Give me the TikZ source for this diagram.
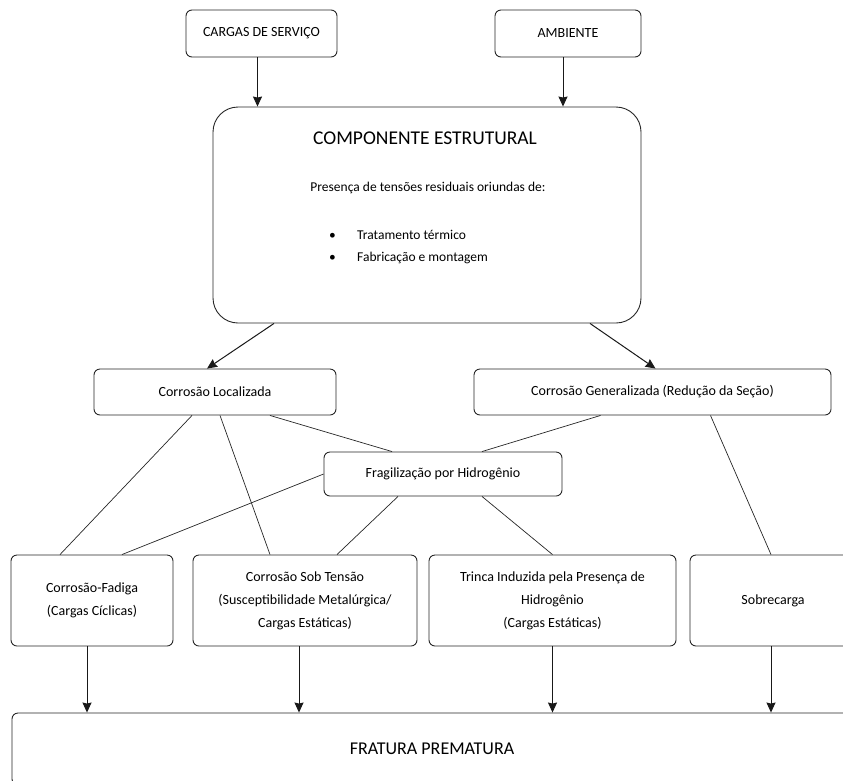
\documentclass[tikz,border=0pt]{standalone}
\usepackage{fontspec}
\setmainfont{Carlito}
\usetikzlibrary{arrows.meta}

\begin{document}
\begin{tikzpicture}[x=1pt,y=-1pt,
		caixa/.style={draw=black!85,line width=0.9pt,rounded corners=6pt,align=center,inner sep=0pt,font=\fontsize{14}{23}\selectfont},
		texto/.style={inner sep=0pt,font=\fontsize{14}{23}\selectfont},
		seta/.style={-{Stealth[length=10pt,width=9pt,inset=1pt]},color=black!90,line width=1pt},
		liga/.style={color=black!85,line width=0.7pt}]
	\useasboundingbox (0,0) rectangle (843,780);
	\clip (0,0) rectangle (843,780);
	% topo
	\node[caixa,minimum width=151pt,minimum height=47pt] (cargas) at (261.5,33.5) {CARGAS DE SERVIÇO};
	\node[caixa,minimum width=146pt,minimum height=47pt] (ambiente) at (568,33.5) {AMBIENTE};
	\node[caixa,rounded corners=25pt,minimum width=428pt,minimum height=216pt] (componente) at (427,215) {};
	\node[texto,font=\fontsize{19.5}{23}\selectfont] (titulo) at (425,138) {COMPONENTE ESTRUTURAL};
	\node[texto,font=\fontsize{13.5}{23}\selectfont] (presenca) at (428,188) {Presença de tensões residuais oriundas de:};
	\node[texto,anchor=west,font=\fontsize{13.5}{23}\selectfont] (tratamento) at (329,235) {\makebox[28pt][l]{\textbullet}Tratamento térmico};
	\node[texto,anchor=west,font=\fontsize{13.5}{23}\selectfont] (fabricacao) at (329,258) {\makebox[28pt][l]{\textbullet}Fabricação e montagem};
	% corrosao
	\node[caixa,minimum width=242pt,minimum height=46pt] (localizada) at (215,392) {Corrosão Localizada};
	\node[caixa,minimum width=357pt,minimum height=46pt] (generalizada) at (652.5,392) {Corrosão Generalizada (Redução da Seção)};
	\node[caixa,minimum width=238pt,minimum height=44pt] (fragilizacao) at (443,474) {Fragilização por Hidrogênio};
	% mecanismos
	\node[caixa,minimum width=162pt,minimum height=91pt] (fadiga) at (92,600.5) {Corrosão-Fadiga\\(Cargas Cíclicas)};
	\node[caixa,minimum width=224pt,minimum height=91pt] (sobtensao) at (305,600.5) {Corrosão Sob Tensão\\(Susceptibilidade Metalúrgica/\\Cargas Estáticas)};
	\node[caixa,minimum width=247pt,minimum height=91pt] (trinca) at (552.5,600.5) {Trinca Induzida pela Presença de\\Hidrogênio\\(Cargas Estáticas)};
	\node[caixa,minimum width=166pt,minimum height=91pt] (sobrecarga) at (773,600.5) {Sobrecarga};
	\node[caixa,minimum width=840pt,minimum height=72pt,font=\fontsize{18}{23}\selectfont] (fratura) at (432,749) {FRATURA PREMATURA};

	\path[seta]
	([xshift=-4pt]cargas.south) edge ([xshift=-4pt]cargas.south |- componente.north)
	([xshift=-5pt]ambiente.south) edge ([xshift=-5pt]ambiente.south |- componente.north)
	([xshift=-153pt]componente.south) edge ([xshift=-8pt]localizada.north)
	([xshift=163pt]componente.south) edge ([xshift=3pt]generalizada.north)
	([xshift=-5pt]fadiga.south) edge ([xshift=-5pt]fadiga.south |- fratura.north)
	([xshift=-6pt]sobtensao.south) edge ([xshift=-6pt]sobtensao.south |- fratura.north)
	(trinca.south) edge (trinca.south |- fratura.north)
	([xshift=-2pt]sobrecarga.south) edge ([xshift=-2pt]sobrecarga.south |- fratura.north)
	;
	\path[liga]
	([xshift=-23pt]localizada.south) edge ([xshift=-32pt]fadiga.north)
	([xshift=5pt]localizada.south) edge ([xshift=-35pt]sobtensao.north)
	([xshift=55pt]localizada.south) edge ([xshift=-51pt]fragilizacao.north)
	([xshift=-52pt]generalizada.south) edge ([xshift=39pt]fragilizacao.north)
	([xshift=58pt]generalizada.south) edge ([xshift=-2pt]sobrecarga.north)
	(fragilizacao.west) edge ([xshift=30pt]fadiga.north)
	([xshift=-45pt]fragilizacao.south) edge ([xshift=32pt]sobtensao.north)
	([xshift=39pt]fragilizacao.south) edge (trinca.north)
	;
\end{tikzpicture}
\end{document}
